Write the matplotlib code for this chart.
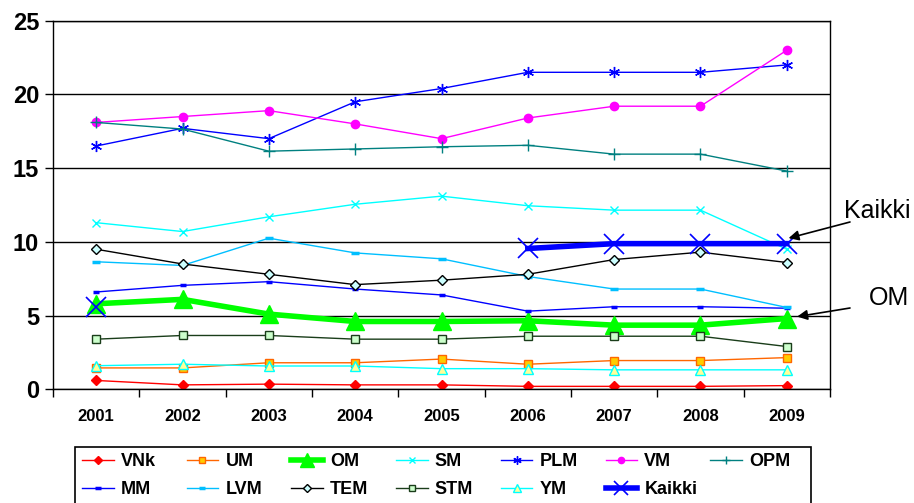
import numpy as np
import matplotlib.pyplot as plt
from matplotlib.ticker import FixedLocator
from matplotlib.patches import Rectangle

plt.rcParams['font.family'] = ['Liberation Sans', 'DejaVu Sans']

# data
years = ['2001', '2002', '2003', '2004', '2005', '2006', '2007', '2008', '2009']
vnk = [0.6, 0.3, 0.35, 0.3, 0.3, 0.2, 0.2, 0.2, 0.25]
um = [1.45, 1.45, 1.8, 1.8, 2.05, 1.7, 1.95, 1.95, 2.15]
om = [5.8, 6.1, 5.1, 4.6, 4.6, 4.65, 4.35, 4.35, 4.8]
sm = [11.3, 10.7, 11.7, 12.55, 13.1, 12.45, 12.15, 12.15, 9.5]
plm = [16.5, 17.7, 17.0, 19.5, 20.4, 21.5, 21.5, 21.5, 22.0]
vm = [18.1, 18.5, 18.9, 18.0, 17.0, 18.4, 19.2, 19.2, 23.0]
opm = [18.1, 17.65, 16.15, 16.3, 16.45, 16.55, 15.95, 15.95, 14.8]
mm = [6.6, 7.05, 7.3, 6.8, 6.4, 5.3, 5.6, 5.6, 5.5]
lvm = [8.65, 8.4, 10.25, 9.25, 8.85, 7.65, 6.8, 6.8, 5.55]
tem = [9.5, 8.5, 7.8, 7.1, 7.4, 7.8, 8.8, 9.3, 8.6]
stm = [3.4, 3.65, 3.65, 3.4, 3.4, 3.6, 3.6, 3.6, 2.9]
ym = [1.6, 1.7, 1.58, 1.58, 1.4, 1.4, 1.32, 1.32, 1.32]
kaikki = [5.6, np.nan, np.nan, np.nan, np.nan, 9.55, 9.88, 9.88, 9.88]

x = np.arange(len(years))
W, H = 914, 503

fig = plt.figure(figsize=(W / 100, H / 100), dpi=100)
ax = fig.add_axes([53 / W, 1 - 389.3 / H, 777 / W, 368.6 / H])

h = {}
h['VNk'], = ax.plot(x, vnk, color='red', lw=1, marker='D', ms=5, mfc='red', mec='red')
h['UM'], = ax.plot(x, um, color='#ff6600', lw=1, marker='s', ms=6, mfc='#ffcc00', mec='#ff6600')
h['OM'], = ax.plot(x, om, color='#00ff00', lw=4, marker='^', ms=13, mfc='#00ff00', mec='#00ff00')
h['SM'], = ax.plot(x, sm, color='cyan', lw=1, marker='x', ms=6, mew=1)
h['PLM'], = ax.plot(x, plm, color='blue', lw=1, marker=(6, 2, 0), ms=8, mew=1)
h['VM'], = ax.plot(x, vm, color='magenta', lw=1, marker='o', ms=6)
h['OPM'], = ax.plot(x, opm, color='teal', lw=1, marker='+', ms=8, mew=1)
h['MM'], = ax.plot(x, mm, color='blue', lw=1, marker='_', ms=5, mew=2.5)
h['LVM'], = ax.plot(x, lvm, color='#00bfff', lw=1, marker='_', ms=6, mew=2.5)
h['TEM'], = ax.plot(x, tem, color='black', lw=1, marker='D', ms=5, mfc='#ccffff', mec='black')
h['STM'], = ax.plot(x, stm, color='#1a3d1a', lw=1, marker='s', ms=6, mfc='#ccffcc', mec='#1a3d1a')
h['YM'], = ax.plot(x, ym, color='cyan', lw=1, marker='^', ms=7, mfc='#ffff99', mec='cyan')
h['Kaikki'], = ax.plot(x, kaikki, color='blue', lw=4, marker='x', ms=14, mew=1.2)

ax.set_xlim(-0.5, len(years) - 0.5)
ax.set_ylim(0, 25)
ax.set_yticks([0, 5, 10, 15, 20, 25])
ax.set_yticklabels(['0', '5', '10', '15', '20', '25'], fontsize=17, fontweight='bold')
ax.set_xticks(x)
ax.set_xticklabels(years, fontsize=12, fontweight='bold')
ax.tick_params(axis='x', which='major', length=0, pad=14)
ax.xaxis.set_minor_locator(FixedLocator(np.arange(-0.5, len(years), 1.0)))
ax.tick_params(axis='x', which='minor', length=6, direction='out', width=1)
ax.tick_params(axis='y', length=6, direction='out', width=1, pad=4)
ax.grid(axis='y', color='black', lw=1)
ax.set_axisbelow(True)
for s in ax.spines.values():
    s.set_linewidth(1)

# annotations
fig.text(877 / W, 1 - 211 / H, 'Kaikki', fontsize=18, ha='center', va='center')
fig.text(889 / W, 1 - 298 / H, 'OM', fontsize=18, ha='center', va='center')
ax.annotate('', xy=(8.02, 10.25), xytext=(850, H - 222), textcoords='figure pixels',
            annotation_clip=False,
            arrowprops=dict(arrowstyle='-|>', color='black', lw=1.2,
                            shrinkA=0, shrinkB=0, mutation_scale=15))
ax.annotate('', xy=(8.12, 4.93), xytext=(850, H - 308), textcoords='figure pixels',
            annotation_clip=False,
            arrowprops=dict(arrowstyle='-|>', color='black', lw=1.2,
                            shrinkA=0, shrinkB=0, mutation_scale=15))

# legend: 7 equal columns, 2 rows, in a black box
row1 = ['VNk', 'UM', 'OM', 'SM', 'PLM', 'VM', 'OPM']
row2 = ['MM', 'LVM', 'TEM', 'STM', 'YM', 'Kaikki']
fig.patches.append(Rectangle((75 / W, -0.05), 736 / W, 1.05 - 447 / H,
                             transform=fig.transFigure, fill=False,
                             edgecolor='black', lw=1.2))
for i in range(7):
    names = [row1[i]] + ([row2[i]] if i < len(row2) else [])
    lg = fig.legend([h[n] for n in names], names, loc='upper left',
                    bbox_to_anchor=((82 + i * 104.7) / W, 1 - 453 / H),
                    frameon=False, prop={'weight': 'bold', 'size': 13},
                    handlelength=1.75, handletextpad=0.4, borderpad=0,
                    borderaxespad=0, labelspacing=0.6, markerscale=0.75)

fig.savefig('out.png', dpi=100)
